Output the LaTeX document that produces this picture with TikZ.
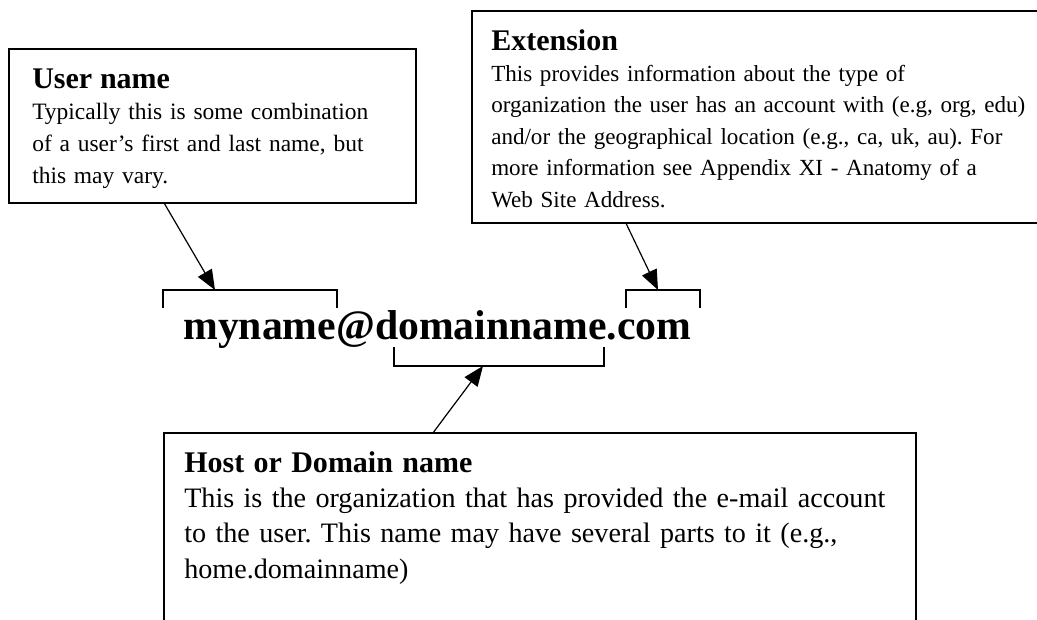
\documentclass[tikz,border=0pt]{standalone}
\usepackage{fontspec}
\setmainfont{Liberation Serif}
\usetikzlibrary{arrows.meta,calc}
\frenchspacing

\newcommand\boxtitle[1]{{\fontsize{22.5}{27}\selectfont\bfseries #1}}

\begin{document}
\begin{tikzpicture}[
  x=0.75pt, y=-0.75pt,
  box/.style={draw=black, line width=1.4pt, inner sep=0pt, anchor=north west},
  note/.style={anchor=base west, align=left, inner sep=0pt, text width=600pt},
  brk/.style={draw=black, line width=1.4pt},
  pointer/.style={-{Triangle[length=15pt,width=12pt]}, line width=0.9pt},
]
\useasboundingbox (0,0) rectangle (1037,619);
\clip (0,0) rectangle (1037,619);

% the three call-out boxes
\node[box, minimum width=305.25pt, minimum height=115.5pt] (ubox) at (8,48) {};
\node[box, minimum width=426.75pt, minimum height=159pt] (ebox) at (471,10) {};
\node[box, minimum width=564pt, minimum height=190pt] (hbox) at (163,432) {};

\node[note, font=\fontsize{17.6}{23.8}\selectfont] (utext) at (32,88) {
    \boxtitle{User name}\\
    Typically this is some combination\\
    of a user’s first and last name, but\\
    this may vary.
};
\node[note, font=\fontsize{17.3}{23.6}\selectfont] (etext) at (491,50) {
    \boxtitle{Extension}\\
    This provides information about the type of\\
    organization the user has an account with (e.g, org, edu)\\
    and/or the geographical location (e.g., ca, uk, au). For\\
    more information see Appendix XI - Anatomy of a\\
    Web Site Address.
};
\node[note, font=\fontsize{21.1}{26.6}\selectfont] (htext) at (184,472) {
    \boxtitle{Host or Domain name}\\
    This is the organization that has provided the e-mail account\\
    to the user. This name may have several parts to it (e.g.,\\
    home.domainname)
};

% the address and its brackets
\node[anchor=base west, inner sep=0pt, font=\fontsize{31.3}{36}\selectfont\bfseries] (addr) at (183,339) {myname@domainname.com};

\coordinate (utip) at (215,290);
\coordinate (etip) at (658,290);
\coordinate (htip) at (483,366);
\draw[brk] (163,308) -- (163,290) -- (337,290) -- (337,308);
\draw[brk] (626,308) -- (626,290) -- (700,290) -- (700,308);
\draw[brk] (394,347) -- (394,366) -- (604,366) -- (604,347);

\draw[pointer] ($(ubox.south west)!0.383!(ubox.south east)$) -- (utip);
\draw[pointer] ($(ebox.south west)!0.272!(ebox.south east)$) -- (etip);
\draw[pointer] ($(hbox.north west)!0.359!(hbox.north east)$) -- (htip);

\end{tikzpicture}
\end{document}
